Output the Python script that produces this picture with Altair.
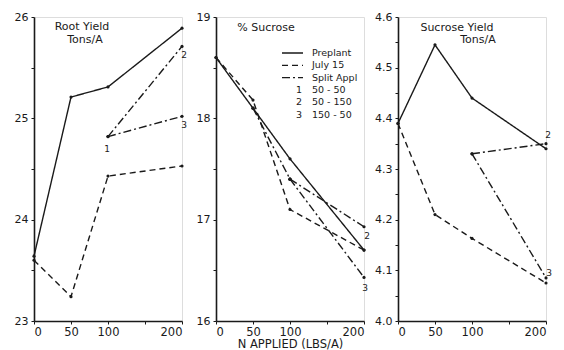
import altair as alt
import pandas as pd

# ---------------- data ----------------
N = [0, 50, 100, 200]
split_N = [100, 200]

root_preplant = [23.64, 25.21, 25.31, 25.89]
root_july15 = [23.60, 23.24, 24.43, 24.53]
root_split_12 = [24.82, 25.71]
root_split_13 = [24.82, 25.02]

suc_preplant = [18.60, 18.10, 17.60, 16.70]
suc_july15 = [18.60, 18.18, 17.10, 16.70]
suc_split_0_N = [50, 100]
suc_split_0 = [18.10, 17.40]
suc_split_12 = [17.40, 16.93]
suc_split_13 = [17.40, 16.43]

sy_preplant = [4.39, 4.545, 4.44, 4.34]
sy_july15 = [4.39, 4.21, 4.163, 4.075]
sy_split_12 = [4.33, 4.35]
sy_split_13 = [4.33, 4.085]

series_names = ["Preplant", "July 15", "Split Appl"]
legend_labels = ["Preplant", "July 15", "Split Appl"]
legend_nums = ["1", "2", "3"]
legend_rates = ["50 - 50", "50 - 150", "150 - 50"]

x_ticks = [0, 50, 100, 150, 200]

FONT = "DejaVu Sans"
INK = "#1a1a1a"
W, H = 148, 304

dash_scale = alt.Scale(domain=series_names,
                       range=[[1, 0], [6, 4], [8, 3, 2, 3]])


def build_df(pre, jul, segs):
    rows = []
    for n, v in zip(N, pre):
        rows.append(dict(N=n, v=v, series="Preplant", seg="pre"))
    for n, v in zip(N, jul):
        rows.append(dict(N=n, v=v, series="July 15", seg="jul"))
    for name, ns, vs in segs:
        for n, v in zip(ns, vs):
            rows.append(dict(N=n, v=v, series="Split Appl", seg=name))
    return pd.DataFrame(rows)


def panel(df, ydom, yvals, ylabel_expr, yfmt, labels, titles, xtitle="",
          extra=None):
    xaxis = alt.Axis(values=x_ticks, labelExpr="datum.value == 150 ? '' : datum.label",
                     grid=False, tickSize=3, labelPadding=2, labelFontSize=11.5,
                     labelOverlap=False,
                     domainWidth=1.6, domainColor=INK, tickColor=INK,
                     labelColor=INK, labelFont=FONT,
                     title=xtitle,
                     titleFont=FONT, titleFontSize=11.5, titleFontWeight="normal",
                     titleColor=INK, titlePadding=1)
    yaxis = alt.Axis(values=yvals, labelExpr=ylabel_expr, format=yfmt,
                     grid=False, tickSize=3, labelPadding=3, labelFontSize=11,
                     labelOverlap=False,
                     domainWidth=1.6, domainColor=INK, tickColor=INK,
                     labelColor=INK, labelFont=FONT, title="")
    x = alt.X("N:Q", scale=alt.Scale(domain=[0, 200], nice=False), axis=xaxis)
    y = alt.Y("v:Q", scale=alt.Scale(domain=ydom, nice=False, zero=False), axis=yaxis)

    base = alt.Chart(df)
    lines = base.mark_line(color=INK, strokeWidth=1.4).encode(
        x=x, y=y,
        strokeDash=alt.StrokeDash("series:N", scale=dash_scale, legend=None),
        detail="seg:N")
    pts = base.mark_circle(color=INK, size=10, opacity=1).encode(x=x, y=y)
    layers = [lines, pts]
    for t, n, v, dx, dy in labels:
        layers.append(alt.Chart(pd.DataFrame({"t": [t], "N": [n], "v": [v]})).mark_text(
            font=FONT, fontSize=9, color=INK, dx=dx, dy=dy).encode(
            x=x, y=y, text="t:N"))
    for t, px, py in titles:
        layers.append(alt.Chart(pd.DataFrame({"t": [t]})).mark_text(
            font=FONT, fontSize=11, color=INK).encode(
            x=alt.value(px), y=alt.value(py), text="t:N"))
    if extra:
        layers.extend(extra)
    return alt.layer(*layers).properties(width=W, height=H)


root_df = build_df(root_preplant, root_july15,
                   [("s12", split_N, root_split_12), ("s13", split_N, root_split_13)])
suc_df = build_df(suc_preplant, suc_july15,
                  [("s0", suc_split_0_N, suc_split_0),
                   ("s12", split_N, suc_split_12), ("s13", split_N, suc_split_13)])
sy_df = build_df(sy_preplant, sy_july15,
                 [("s12", split_N, sy_split_12), ("s13", split_N, sy_split_13)])

root_labels = [("1", 100, root_split_12[0], -1, 12),
               ("2", 200, root_split_12[1], 2, 9),
               ("3", 200, root_split_13[1], 2, 9)]
suc_labels = [("2", 200, suc_split_12[1], 3, 9),
              ("3", 200, suc_split_13[1], 1, 11)]
sy_labels = [("2", 200, sy_split_12[1], 2, -9),
             ("3", 200, sy_split_13[1], 3, -5)]

# legend in the middle panel
leg_df = pd.DataFrame({"series": series_names, "lab": legend_labels,
                       "ypix": [36 + 12.3 * i for i in range(3)]})
leg_lines = alt.Chart(leg_df).mark_rule(color=INK, strokeWidth=1.3).encode(
    x=alt.value(66), x2=alt.value(87), y=alt.Y("ypix:Q", scale=None),
    strokeDash=alt.StrokeDash("series:N", scale=dash_scale, legend=None))
leg_text = alt.Chart(leg_df).mark_text(font=FONT, fontSize=9.5, color=INK,
                                        align="left").encode(
    x=alt.value(96), y=alt.Y("ypix:Q", scale=None), text="lab:N")
rate_df = pd.DataFrame({"num": legend_nums, "rate": legend_rates,
                        "ypix": [36 + 12.3 * (3 + i) for i in range(3)]})
leg_nums = alt.Chart(rate_df).mark_text(font=FONT, fontSize=9.5, color=INK,
                                         align="right").encode(
    x=alt.value(86), y=alt.Y("ypix:Q", scale=None), text="num:N")
leg_rates = alt.Chart(rate_df).mark_text(font=FONT, fontSize=9.5, color=INK,
                                          align="left").encode(
    x=alt.value(96), y=alt.Y("ypix:Q", scale=None), text="rate:N")

p1 = panel(root_df, [23, 26], [23 + 0.5 * i for i in range(7)],
           "datum.value % 1 == 0 ? datum.label : ''", ".0f", root_labels,
           [("Root Yield", 48, 10), ("Tons/A", 51, 23)])
p2 = panel(suc_df, [16, 19], [16 + 0.5 * i for i in range(7)],
           "datum.value % 1 == 0 ? datum.label : ''", ".0f", suc_labels,
           [("% Sucrose", 50, 11)], xtitle="N APPLIED (LBS/A)",
           extra=[leg_lines, leg_text, leg_nums, leg_rates])
p3 = panel(sy_df, [4.0, 4.6], [round(4.0 + 0.05 * i, 2) for i in range(13)],
           "round(datum.value * 100) % 10 == 0 ? datum.label : ''", ".1f", sy_labels,
           [("Sucrose Yield", 59, 11), ("Tons/A", 80, 23)])

chart = alt.hconcat(p1, p2, p3, spacing=34, bounds="flush").properties(
    padding={"left": 5, "top": 2, "right": 0, "bottom": 0}
).configure_view(stroke=None).configure(background="white")

chart.save("out.html", embed_options={"renderer": "svg", "actions": False})
